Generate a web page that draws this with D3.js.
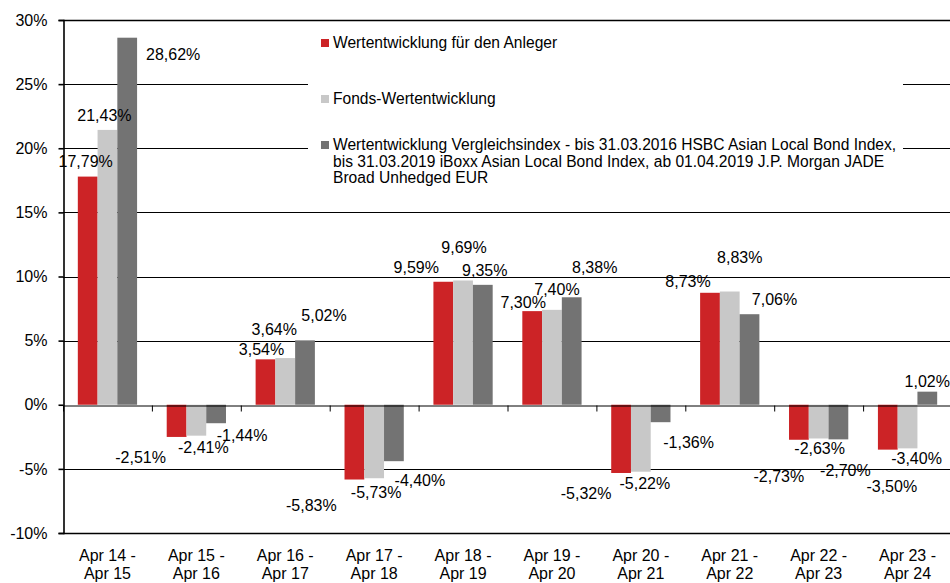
<!DOCTYPE html>
<html>
<head>
<meta charset="utf-8">
<script src="https://cdn.jsdelivr.net/npm/d3@7"></script>
<style>
  body { margin: 0; background: #fff; }
  text { font-family: "Liberation Sans", Arial, sans-serif; fill: #000; }
</style>
</head>
<body>
<div id="chart"></div>
<script>
// Data
const categories = [
    ["Apr 14 -", "Apr 15"], ["Apr 15 -", "Apr 16"], ["Apr 16 -", "Apr 17"],
    ["Apr 17 -", "Apr 18"], ["Apr 18 -", "Apr 19"], ["Apr 19 -", "Apr 20"],
    ["Apr 20 -", "Apr 21"], ["Apr 21 -", "Apr 22"], ["Apr 22 -", "Apr 23"],
    ["Apr 23 -", "Apr 24"]
];
const investorValues = [17.79, -2.51, 3.54, -5.83, 9.59, 7.30, -5.32, 8.73, -2.73, -3.50];
const fundValues = [21.43, -2.41, 3.64, -5.73, 9.69, 7.40, -5.22, 8.83, -2.63, -3.40];
const indexValues = [28.62, -1.44, 5.02, -4.40, 9.35, 8.38, -1.36, 7.06, -2.70, 1.02];
const yTicks = [-10, -5, 0, 5, 10, 15, 20, 25, 30];

const seriesNames = [
    ["Wertentwicklung für den Anleger"],
    ["Fonds-Wertentwicklung"],
    ["Wertentwicklung Vergleichsindex - bis 31.03.2016 HSBC Asian Local Bond Index,",
     "bis 31.03.2019 iBoxx Asian Local Bond Index, ab 01.04.2019 J.P. Morgan JADE",
     "Broad Unhedged EUR"]
];

// label nudges (px) as the original chart staggered them
const labelOffsets = [
    [[-2,-15],[-36,20],[-4,-10],[-43,26],[-27,-14],[-9,-9],[-35,20],[-22,-11],[-20,37],[4,37]],
    [[-3,-15],[7,12],[-11,-29],[2,14],[1,-33],[5,-20],[4,12],[10,-34],[1,10],[9,10]],
    [[46,17],[26,12],[19,-25],[26,19],[2,-14],[23,-30],[28,20],[25,-15],[7,31],[0,-10]]
];

const colors = ["#cc2326", "#c8c8c8", "#737373"];
const seriesValues = [investorValues, fundValues, indexValues];

const w = 950, h = 583;
const margin = { left: 63, right: 952, top: 20, bottom: 533 };

const de = d3.formatLocale({ decimal: ",", thousands: ".", grouping: [3], currency: ["", "€"], minus: "-" });
const fmt = de.format(".2f");

const svg = d3.select("#chart").append("svg")
    .attr("width", w)
    .attr("height", h);

// Scales
const x = d3.scaleBand()
    .domain(d3.range(categories.length))
    .range([margin.left, margin.right]);

const xSub = d3.scaleBand()
    .domain([0, 1, 2])
    .range([x.bandwidth() / 6, x.bandwidth() * 5 / 6]);

const y = d3.scaleLinear()
    .domain([-10, 30])
    .range([margin.bottom, margin.top]);

const snap = v => Math.round(v) + 0.5;

// Gridlines
svg.append("g")
    .selectAll("line")
    .data(yTicks.filter(t => t !== 0))
    .enter()
    .append("line")
    .attr("x1", margin.left)
    .attr("x2", margin.right)
    .attr("y1", d => snap(y(d)))
    .attr("y2", d => snap(y(d)))
    .attr("stroke", "#000")
    .attr("stroke-width", d => (d === 30 || d === -10) ? 1.6 : 1);

// Legend background cuts the gridlines
svg.append("rect")
    .attr("x", 308).attr("y", 26)
    .attr("width", 595).attr("height", 168)
    .attr("fill", "#fff");

// Bars
seriesValues.forEach((vals, s) => {
    svg.append("g")
        .selectAll("rect")
        .data(vals)
        .enter()
        .append("rect")
        .attr("x", (d, i) => x(i) + xSub(s))
        .attr("width", xSub.bandwidth())
        .attr("y", d => y(Math.max(0, d)))
        .attr("height", d => Math.abs(y(d) - y(0)))
        .attr("fill", colors[s]);
});

// Y Axis
const yAxis = svg.append("g")
    .attr("transform", `translate(${margin.left + 0.5},0)`)
    .call(d3.axisLeft(y).tickValues(yTicks).tickSize(5).tickPadding(11)
        .tickFormat(d => d + "%"));
yAxis.selectAll("path, line").attr("stroke", "#000").attr("stroke-width", 1.6);
yAxis.selectAll("text").style("font-size", "16px").style("font-family", "Liberation Sans, Arial, sans-serif");

// Zero axis with ticks between categories
const xi = d3.scaleLinear().domain([0, categories.length]).range([margin.left, margin.right]);
const xAxis = svg.append("g")
    .attr("transform", `translate(0,${snap(y(0))})`)
    .call(d3.axisBottom(xi).tickValues(d3.range(categories.length + 1)).tickSize(6).tickSizeOuter(0).tickFormat(""));
xAxis.selectAll("path, line").attr("stroke", "#000").attr("stroke-width", 1);

// Category labels
const catG = svg.append("g")
    .selectAll("text")
    .data(categories)
    .enter()
    .append("text")
    .attr("text-anchor", "middle")
    .style("font-size", "16px");
catG.append("tspan").attr("x", (d, i) => x(i) + x.bandwidth() / 2).attr("y", 561).text(d => d[0]);
catG.append("tspan").attr("x", (d, i) => x(i) + x.bandwidth() / 2).attr("y", 579).text(d => d[1]);

// Value labels
seriesValues.forEach((vals, s) => {
    svg.append("g")
        .selectAll("text")
        .data(vals)
        .enter()
        .append("text")
        .attr("text-anchor", "middle")
        .attr("dy", "0.35em")
        .style("font-size", "16px")
        .attr("x", (d, i) => x(i) + xSub(s) + xSub.bandwidth() / 2 + labelOffsets[s][i][0])
        .attr("y", (d, i) => y(d) + labelOffsets[s][i][1])
        .text(d => fmt(d) + "%");
});

// Legend
const legendY = [48, 104, 150];
const legend = svg.append("g")
    .selectAll("g")
    .data(seriesNames)
    .enter()
    .append("g");
legend.append("rect")
    .attr("x", 321)
    .attr("y", (d, i) => legendY[i] - 9)
    .attr("width", 8).attr("height", 8)
    .attr("fill", (d, i) => colors[i]);
legend.append("text")
    .style("font-size", "15.6px")
    .attr("y", (d, i) => legendY[i])
    .selectAll("tspan")
    .data(d => d)
    .enter()
    .append("tspan")
    .attr("x", 333)
    .attr("dy", (d, j) => j === 0 ? 0 : 16.5)
    .text(d => d);
</script>
</body>
</html>
